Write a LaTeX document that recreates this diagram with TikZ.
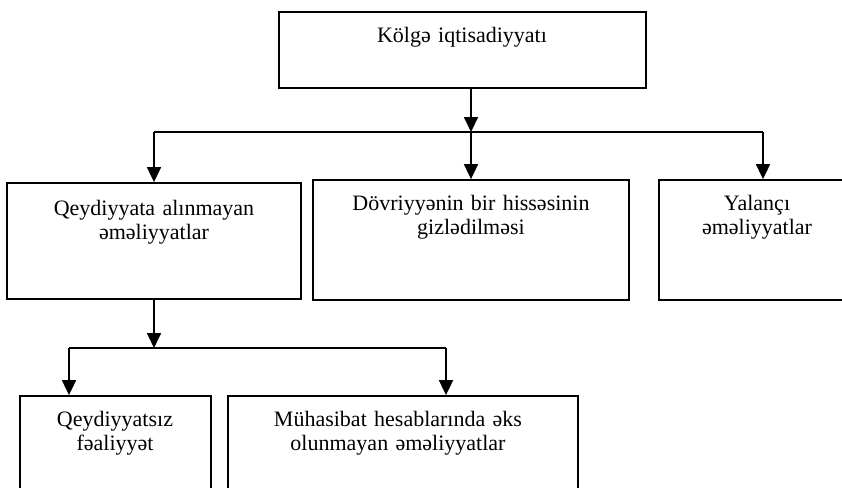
\documentclass[tikz,border=0pt]{standalone}
\usepackage{fontspec}
\setmainfont{Liberation Serif}
\usetikzlibrary{arrows.meta}
\begin{document}
\begin{tikzpicture}[x=1pt,y=-1pt,
  box/.style={draw=black,line width=1.8pt,fill=none,inner sep=0pt},
  txt/.style={anchor=base,align=center,inner sep=0pt,
    font=\fontsize{22}{24.5}\selectfont},
  arr/.style={line width=1.8pt,-{Triangle[width=14pt,length=15pt]}},
  ln/.style={line width=1.8pt}]
\useasboundingbox (0,0) rectangle (842,487);
\clip (0,0) rectangle (842,487);
% boxes
\node[box,minimum width=367pt,minimum height=76pt] (T) at (462.5,50) {};
\node[box,minimum width=294pt,minimum height=116pt] (B1) at (154,241) {};
\node[box,minimum width=316pt,minimum height=120pt] (B2) at (471,240) {};
\node[box,minimum width=201pt,minimum height=120pt] (B3) at (759.5,240) {};
\node[box,minimum width=191pt,minimum height=104pt] (B4) at (115.5,448) {};
\node[box,minimum width=350pt,minimum height=104pt] (B5) at (403,448) {};
% texts
\node[txt,text width=340pt] (tT) at (462,42) {Kölgə iqtisadiyyatı};
\node[txt,text width=280pt] (t1) at (154,215) {Qeydiyyata alınmayan\\əməliyyatlar};
\node[txt,text width=300pt] (t2) at (471,210) {Dövriyyənin bir hissəsinin\\gizlədilməsi};
\node[txt,text width=190pt] (t3) at (757,210) {Yalançı\\əməliyyatlar};
\node[txt,text width=185pt] (t4) at (115,426) {Qeydiyyatsız\\fəaliyyət};
\node[txt,text width=340pt] (t5) at (398,426) {Mühasibat hesablarında əks\\olunmayan əməliyyatlar};
% junctions
\coordinate (j0) at (471,132);
\coordinate (hl) at (154,132);
\coordinate (hr) at (763,132);
\coordinate (j1) at (154,348);
\coordinate (h2l) at (69,348);
\coordinate (h2r) at (446,348);
% connectors
\draw[arr] (T.south -| j0) -- (j0);
\draw[ln] (hl) -- (hr);
\draw[arr] (hl) -- (hl |- B1.north);
\draw[arr] (j0) -- (j0 |- B2.north);
\draw[arr] (hr) -- (hr |- B3.north);
\draw[arr] (B1.south) -- (j1);
\draw[ln] (h2l) -- (h2r);
\draw[arr] (h2l) -- (h2l |- B4.north);
\draw[arr] (h2r) -- (h2r |- B5.north);
\end{tikzpicture}
\end{document}
